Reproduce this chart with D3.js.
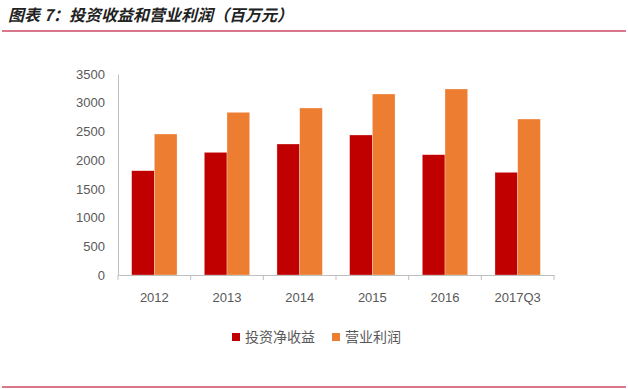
<!DOCTYPE html>
<html>
<head>
<meta charset="utf-8">
<script src="https://cdn.jsdelivr.net/npm/d3@7"></script>
<style>
  body { margin: 0; background: #fff; }
  text { font-family: "Liberation Sans", "Noto Sans CJK SC", sans-serif; }
</style>
</head>
<body>
<svg id="chart" width="628" height="389"></svg>
<script>
const years = ['2012', '2013', '2014', '2015', '2016', '2017Q3'];
const investIncome = [1816, 2136, 2281, 2438, 2095, 1788];
const operatingProfit = [2455, 2833, 2908, 3152, 3239, 2716];
const yTicks = [0, 500, 1000, 1500, 2000, 2500, 3000, 3500];
const seriesNames = ['投资净收益', '营业利润'];
const seriesColors = ['#c00000', '#ed7d31'];

const svg = d3.select('#chart');

// header
svg.append('text')
  .attr('x', 8)
  .attr('y', 21)
  .style('font-family', '"Noto Sans CJK SC", serif')
  .style('font-size', '16px')
  .style('font-weight', 'bold')
  .style('font-style', 'italic')
  .attr('fill', '#222')
  .text('图表 7：投资收益和营业利润（百万元）');

svg.append('line')
  .attr('x1', 2).attr('x2', 626)
  .attr('y1', 31).attr('y2', 31)
  .attr('stroke', '#d9768b').attr('stroke-width', 2);

svg.append('line')
  .attr('x1', 2).attr('x2', 626)
  .attr('y1', 387).attr('y2', 387)
  .attr('stroke', '#d9768b').attr('stroke-width', 2);

const x = d3.scaleBand().domain(years).range([118, 554]).paddingInner(0.375).paddingOuter(0.1875);
const xs = d3.scaleBand().domain(seriesNames).range([0, x.bandwidth()]);
const y = d3.scaleLinear().domain([0, 3500]).range([275, 74]);

const rows = years.map((yr, i) => ({ year: yr, vals: [investIncome[i], operatingProfit[i]] }));

const groups = svg.append('g').selectAll('g')
  .data(rows)
  .enter()
  .append('g')
  .attr('transform', d => 'translate(' + x(d.year) + ',0)');

groups.selectAll('rect')
  .data(d => d.vals.map((v, j) => ({ name: seriesNames[j], value: v, color: seriesColors[j] })))
  .enter()
  .append('rect')
  .attr('x', d => xs(d.name))
  .attr('y', d => y(d.value))
  .attr('width', xs.bandwidth())
  .attr('height', d => y(0) - y(d.value))
  .attr('fill', d => d.color)
  .attr('stroke', '#fff')
  .attr('stroke-opacity', 0.5)
  .attr('stroke-width', 0.6);

// y axis
const yAxis = svg.append('g')
  .attr('transform', 'translate(118,0)')
  .call(d3.axisLeft(y).tickValues(yTicks).tickFormat(d3.format('d')).tickSize(0).tickPadding(13));
yAxis.select('.domain').attr('stroke', '#bfbfbf');
yAxis.selectAll('text')
  .style('font-size', '13px')
  .attr('fill', '#595959');

// x axis with ticks at category boundaries
const xAxis = svg.append('g')
  .attr('transform', 'translate(0,275)')
  .call(d3.axisBottom(x).tickSize(0).tickPadding(18));
xAxis.select('.domain').attr('stroke', '#bfbfbf');
xAxis.selectAll('text')
  .style('font-size', '13px')
  .attr('fill', '#595959');

const step = x.step();
const bounds = d3.range(years.length + 1).map(i => 118 + i * step);
svg.append('g').selectAll('line')
  .data(bounds)
  .enter()
  .append('line')
  .attr('x1', d => d).attr('x2', d => d)
  .attr('y1', 275).attr('y2', 280)
  .attr('stroke', '#bfbfbf');

// legend
const legend = svg.append('g').selectAll('g')
  .data(seriesNames)
  .enter()
  .append('g')
  .attr('transform', (d, i) => 'translate(' + (232 + i * 100) + ',333)');

legend.append('rect')
  .attr('x', 0).attr('y', 0)
  .attr('width', 8).attr('height', 8)
  .attr('fill', (d, i) => seriesColors[i]);

legend.append('text')
  .attr('x', 13)
  .attr('y', 9)
  .style('font-size', '14px')
  .style('font-family', '"Noto Sans CJK SC", sans-serif')
  .attr('fill', '#595959')
  .text(d => d);
</script>
</body>
</html>
